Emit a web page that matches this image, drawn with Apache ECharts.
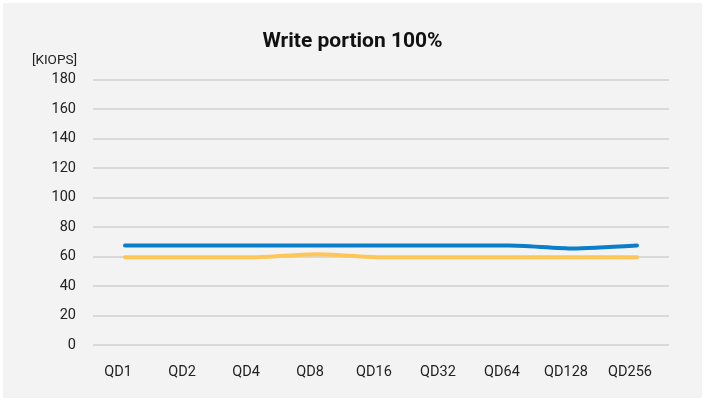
<!DOCTYPE html>
<html><head><meta charset="utf-8">
<script src="https://cdn.jsdelivr.net/npm/echarts@6/dist/echarts.min.js"></script>
<style>
html,body{margin:0;padding:0;background:#fff;}
#bg{position:absolute;left:3px;top:3px;width:699px;height:395px;background:#f3f3f3;}
#c{position:absolute;left:0;top:0;width:705px;height:401px;}
</style></head>
<body><div id="bg"></div><div id="c"></div>
<script>
const categories = ['QD1','QD2','QD4','QD8','QD16','QD32','QD64','QD128','QD256'];
const seriesBlue = [67.5,67.5,67.5,67.5,67.5,67.5,67.5,65.5,67.5];
const seriesYellow = [59.5,59.5,59.5,61.5,59.5,59.5,59.5,59.5,59.5];
const yTicks = {min:0, max:180, interval:20};
const titleText = 'Write portion 100%';
const yName = '[KIOPS]';

const chart = echarts.init(document.getElementById('c'), null, {renderer:'canvas'});
const font = 'Roboto, "Noto Sans", sans-serif';
chart.setOption({
  backgroundColor: 'transparent',
  animation: false,
  title: {text: titleText, left: 'center', top: 26,
    textStyle: {fontFamily: font, fontSize: 21, fontWeight: 'bold', color: '#111'}},
  grid: {left: 93, right: 36, top: 79.5, bottom: 56},
  xAxis: {type: 'category', data: categories, boundaryGap: true,
    axisLine: {show: false}, axisTick: {show: false},
    axisLabel: {fontFamily: font, fontSize: 14.5, color: '#222', margin: 20, padding: [0, 14, 0, 0]}},
  yAxis: {type: 'value', min: yTicks.min, max: yTicks.max, interval: yTicks.interval,
    name: yName, nameLocation: 'end', nameGap: 12,
    nameTextStyle: {fontFamily: font, fontSize: 13.5, color: '#222', align: 'right', padding: [0, 16, 0, 0]},
    axisLine: {show: false}, axisTick: {show: false},
    axisLabel: {fontFamily: font, fontSize: 14.5, color: '#222', margin: 17},
    splitLine: {lineStyle: {color: '#d9d9d9', width: 2}}},
  series: [
    {type: 'line', data: seriesYellow, symbol: 'none', smooth: 0.2,
     lineStyle: {color: '#fcc659', width: 4, cap: 'round', join: 'round'}},
    {type: 'line', data: seriesBlue, symbol: 'none', smooth: 0.2,
     lineStyle: {color: '#0a7dcb', width: 4, cap: 'round', join: 'round'}}
  ]
});
</script></body></html>
